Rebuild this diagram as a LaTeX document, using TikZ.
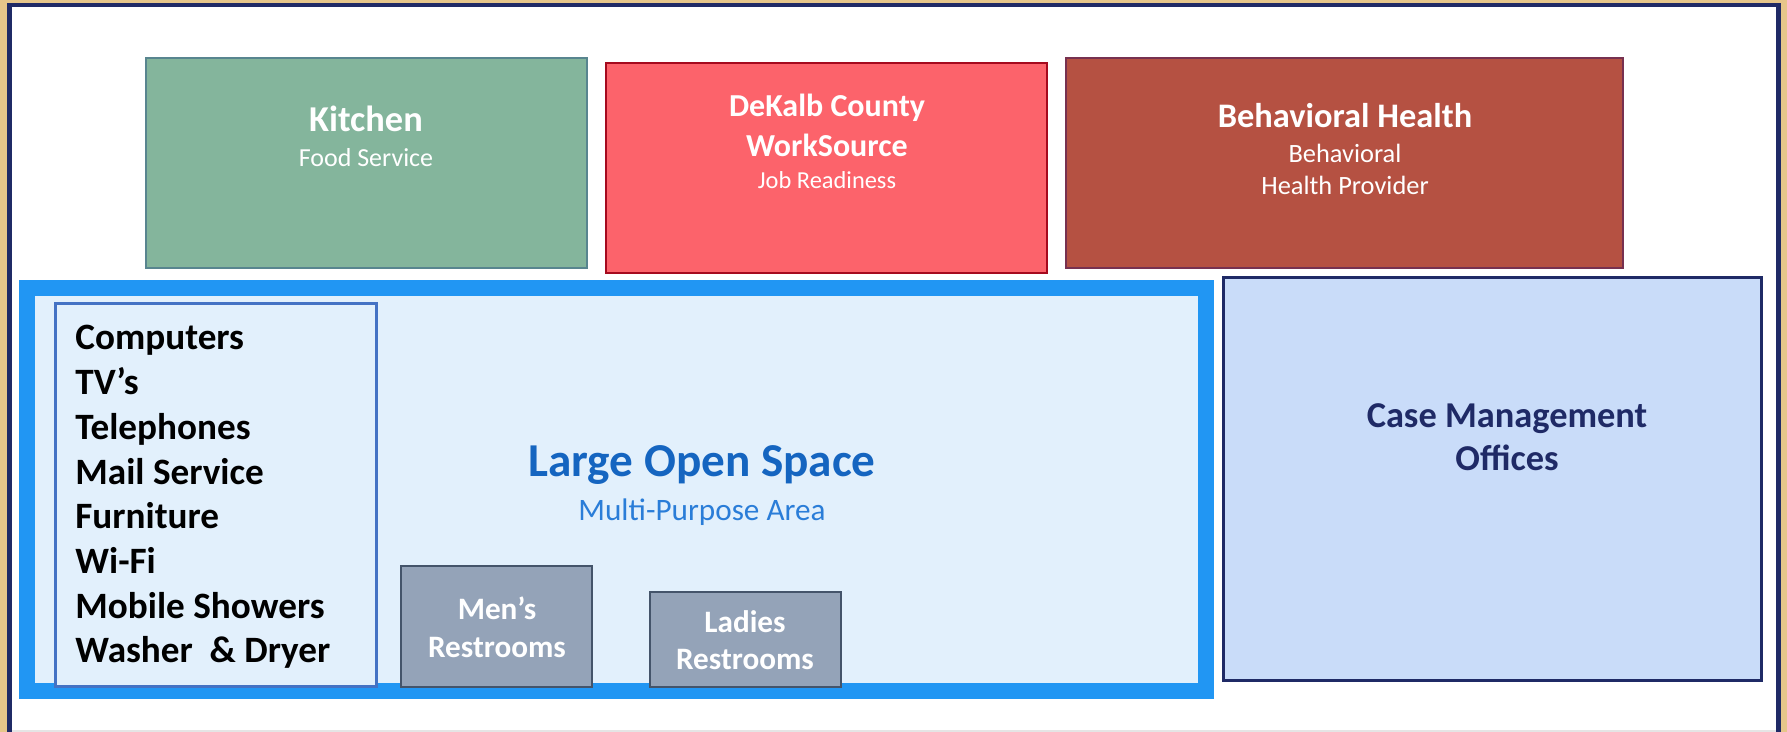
\documentclass[tikz,border=0pt]{standalone}
\usepackage{fontspec}
\setmainfont{Carlito}
\usetikzlibrary{calc}
\newcommand{\fsz}[1]{\fontsize{#1}{#1}\selectfont}
\definecolor{wood}{HTML}{E6C68A}
\definecolor{navy}{HTML}{1F2A66}
\definecolor{kitfill}{HTML}{84B59C}
\definecolor{kitdraw}{HTML}{58858F}
\definecolor{wsfill}{HTML}{FC636B}
\definecolor{wsdraw}{HTML}{A50A1E}
\definecolor{bhfill}{HTML}{B55142}
\definecolor{bhdraw}{HTML}{773150}
\definecolor{openblue}{HTML}{2196F3}
\definecolor{openfill}{HTML}{E2F0FC}
\definecolor{opentitle}{HTML}{1565C0}
\definecolor{opensub}{HTML}{2A7DD8}
\definecolor{listdraw}{HTML}{4472C4}
\definecolor{restfill}{HTML}{94A3B8}
\definecolor{restdraw}{HTML}{44546A}
\definecolor{casefill}{HTML}{C9DCF9}
\tikzset{%
  room/.style={draw=#1,line width=1.3pt},
  room/.default=black,
  roomtext/.style={anchor=base,inner sep=0pt,text=#1},
  roomtext/.default=white
}

\begin{document}
\begin{tikzpicture}[x=0.5pt,y=-0.5pt]
  \clip (0,0) rectangle (1787,732);
  \fill[wood] (0,0) rectangle (1787,732);
  \fill[navy] (7,3) rectangle (1781,760);
  \fill[white] (12,7) rectangle (1776,760);
  \fill[gray!20] (12,730) rectangle (1776,732);
  %%% top row
  \filldraw[room=kitdraw,fill=kitfill] (146,58) rectangle (587,268);
  \filldraw[room=wsdraw,fill=wsfill] (606,63) rectangle (1047,273);
  \filldraw[room=bhdraw,fill=bhfill] (1066,58) rectangle (1623,268);
  \node[roomtext,font=\fsz{18.2}\bfseries] (kt) at (366,132) {Kitchen};
  \node[roomtext,font=\fsz{13}] (ks) at (366,167) {Food Service};
  \node[roomtext,font=\fsz{16}\bfseries] (wt) at (827,117) {DeKalb County};
  \node[roomtext,font=\fsz{16}\bfseries] (wu) at (827,157) {WorkSource};
  \node[roomtext,font=\fsz{12.2}] (ws) at (827,189) {Job Readiness};
  \node[roomtext,font=\fsz{17.2}\bfseries] (bt) at (1345,128) {Behavioral Health};
  \node[roomtext,font=\fsz{13.2}] (bs) at (1345,163) {Behavioral};
  \node[roomtext,font=\fsz{13.2}] (bu) at (1345,195) {Health Provider};
  %%% open space
  \filldraw[draw=openblue,line width=8pt,fill=openfill] (27,288) rectangle (1206,691);
  \node[roomtext=opentitle,font=\fsz{23.6}\bfseries] (ot) at (702,476) {Large Open Space};
  \node[roomtext=opensub,font=\fsz{15.6}] (os) at (702,520) {Multi-Purpose Area};
  \filldraw[draw=listdraw,line width=1.5pt,fill=openfill] (55,304) rectangle (376,686);
  \foreach \t [count=\i from 0] in {Computers,TV’s,Telephones,Mail Service,Furniture,Wi-Fi,Mobile Showers,Washer \ \& Dryer}
    \node[roomtext=black,anchor=base west,font=\fsz{18.6}\bfseries] (l\i) at (75,350+44.7*\i) {\t};
  \filldraw[room=restdraw,fill=restfill] (401,566) rectangle (592,687);
  \filldraw[room=restdraw,fill=restfill] (650,592) rectangle (841,687);
  \node[roomtext,font=\fsz{15.6}\bfseries] (mt) at (497,619) {Men’s};
  \node[roomtext,font=\fsz{15.6}\bfseries] (ms) at (497,657) {Restrooms};
  \node[roomtext,font=\fsz{15.6}\bfseries] (lt) at (745,632) {Ladies};
  \node[roomtext,font=\fsz{15.6}\bfseries] (ls) at (745,669) {Restrooms};
  %%% offices
  \filldraw[draw=navy,line width=1.5pt,fill=casefill] (1223,278) rectangle (1761,680);
  \node[roomtext=navy,font=\fsz{18.2}\bfseries] (ct) at (1507,428) {Case Management};
  \node[roomtext=navy,font=\fsz{18.2}\bfseries] (cs) at (1507,470) {Offices};
\end{tikzpicture}
\end{document}
